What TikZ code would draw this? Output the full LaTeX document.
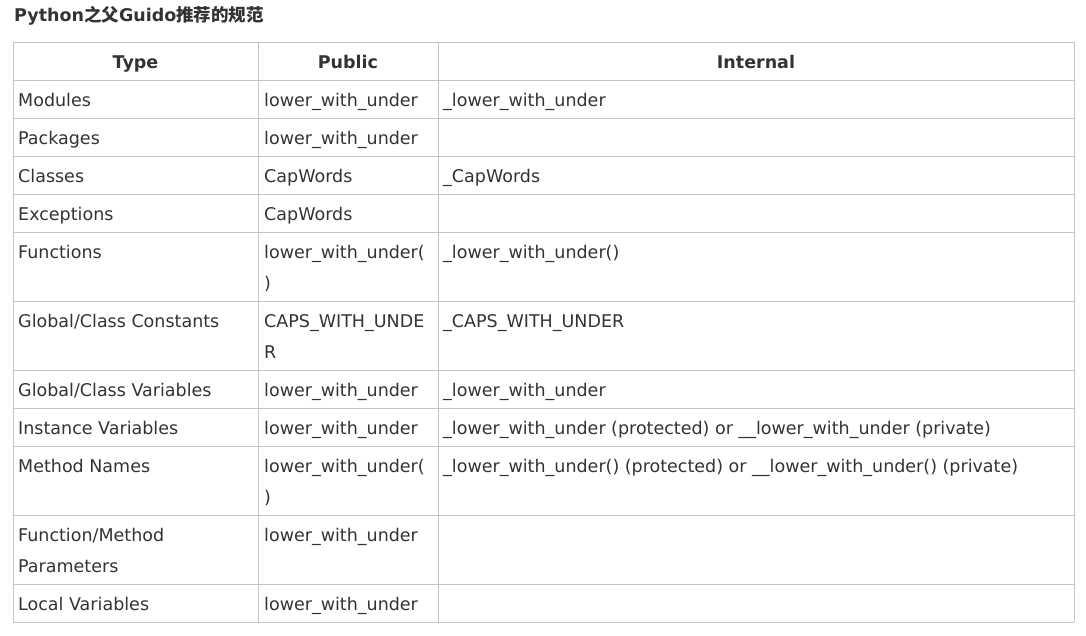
\documentclass[tikz,border=0pt]{standalone}
\usepackage{fontspec}
\setmainfont{DejaVu Sans}
\newfontfamily\cjk{Noto Sans CJK SC}
\usetikzlibrary{positioning}
\definecolor{ink}{HTML}{333333}
\definecolor{rule}{HTML}{C4C4C4}

\begin{document}
\begin{tikzpicture}[x=1pt,y=-1pt,
  cell/.style={anchor=north west,inner sep=0pt,text=ink,align=left,
    font=\fontsize{17.5}{31}\selectfont},
  head/.style={anchor=base,inner sep=0pt,text=ink,
    font=\fontsize{17.5}{31}\selectfont\bfseries},
  rulebox/.style={draw=rule,line width=1pt}]
  \useasboundingbox (0,0) rectangle (1086,635);
  % grid of the table
  \foreach \y in {42,80,118,156,194,232,301,370,408,446,515,584,622}
    \draw[rulebox] (13,\y) -- (1074,\y);
  \foreach \x in {13,258,438,1074}
    \draw[rulebox] (\x,42) -- (\x,622);
  \path
  node[anchor=base west,inner sep=0pt,text=ink,font=\fontsize{17.5}{20}\selectfont\bfseries]
    (title) at (14,21) {Python{\cjk 之父}Guido{\cjk 推荐的规范}}
  node[head] (h_type) at (135.5,68) {Type}
  node[head] (h_pub)  at (348,68)   {Public}
  node[head] (h_int)  at (756,68)   {Internal}
  ;
  % one row per line: top of first line / type / public / internal
  \foreach \b/\t/\p/\i [count=\k] in {
    84.3/{Modules}/{lower\_with\_under}/{\_lower\_with\_under},
    122.3/{Packages}/{lower\_with\_under}/{},
    160.3/{Classes}/{CapWords}/{\_CapWords},
    198.3/{Exceptions}/{CapWords}/{},
    236.3/{Functions}/{lower\_with\_under(\\)}/{\_lower\_with\_under()},
    305.3/{Global/Class Constants}/{CAPS\_WITH\_UNDE\\R}/{\_CAPS\_WITH\_UNDER},
    374.3/{Global/Class Variables}/{lower\_with\_under}/{\_lower\_with\_under},
    412.3/{Instance Variables}/{lower\_with\_under}/{\_lower\_with\_under (protected) or \_\_lower\_with\_under (private)},
    450.3/{Method Names}/{lower\_with\_under(\\)}/{\_lower\_with\_under() (protected) or \_\_lower\_with\_under() (private)},
    519.3/{Function/Method\\Parameters}/{lower\_with\_under}/{},
    588.3/{Local Variables}/{lower\_with\_under}/{}}
  {
    \node[cell] (ty_\k) at (18,\b)  {\strut\t};
    \node[cell] (pu_\k) at (264,\b) {\strut\p};
    \node[cell] (in_\k) at (443,\b) {\strut\i};
  }
\end{tikzpicture}
\end{document}
